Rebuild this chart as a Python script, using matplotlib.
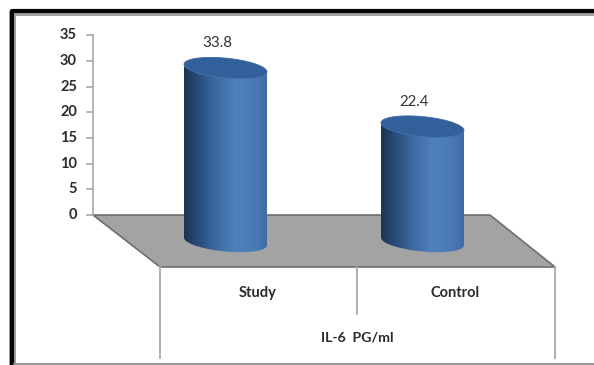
import numpy as np
import matplotlib
matplotlib.use("Agg")
import matplotlib.pyplot as plt
from matplotlib.colors import LinearSegmentedColormap
from matplotlib.patches import Polygon, PathPatch
from matplotlib.path import Path

categories = ["Study", "Control"]
values = [33.8, 22.4]
value_ticks = [0, 5, 10, 15, 20, 25, 30, 35]
axis_title = "IL-6  PG/ml"

plt.rcParams["font.family"] = ["Lato", "DejaVu Sans"]

W, H = 594, 365
fig = plt.figure(figsize=(W / 100, H / 100), dpi=100, facecolor="white")
ax = fig.add_axes([0, 0, 1, 1])

# x in pixels across the figure; y in chart units, zero on the axis line
units_per_px = 1 / 5.13
zero_px = 215
ax.set_xlim(0, W)
ax.set_ylim((zero_px - H) * units_per_px, zero_px * units_per_px)
ax.axis("off")


def y_at(px):
    return (zero_px - px) * units_per_px


# outer frame: heavy black top and left edges with a grey halo, thin grey base
frame_x = [12, 12, W + 5]
frame_y = [y_at(H + 5), y_at(12.5), y_at(12.5)]
ax.plot(frame_x, frame_y, color="#a0a0a0", lw=5.0, solid_joinstyle="round", zorder=1)
ax.plot(frame_x, [y_at(H + 5), y_at(11.5), y_at(11.5)], color="#050505", lw=3.0,
        solid_joinstyle="round", zorder=1)
ax.plot([14, W], [y_at(363.5), y_at(363.5)], color="#8c8c8c", lw=1.3, zorder=1)

# floor of the 3D plot
floor = [(93, 0), (490, 0), (555, y_at(267)), (160, y_at(267))]
ax.add_patch(Polygon(floor, closed=True, fc="#a3a3a3", ec="#6e6e6e", lw=1.2, zorder=2))

# value axis and its ticks
ax.plot([93, 93], [0, 35], color="#a8a8a8", lw=1.2, zorder=2)
for v in value_ticks:
    ax.plot([87, 93], [v, v], color="#a8a8a8", lw=1.2, zorder=2)
    ax.text(77, v, str(v), ha="right", va="center", fontsize=10.5,
            fontweight="bold", color="#2a2a2a", zorder=5)

# category dividers below the floor
for x, bottom in [(160, 358), (357, 314), (555, 358)]:
    ax.plot([x, x], [y_at(267), y_at(bottom)], color="#a8a8a8", lw=1.3, zorder=2)

for name, x in zip(categories, [258, 455]):
    ax.text(x, y_at(293), name, ha="center", va="center", fontsize=10.5,
            fontweight="bold", color="#2a2a2a", zorder=5)
ax.text(357, y_at(338), axis_title, ha="center", va="center", fontsize=10.2,
        fontweight="bold", color="#2a2a2a", zorder=5)

# cylinders
side_cmap = LinearSegmentedColormap.from_list(
    "side", [(0, "#1f3450"), (0.10, "#22426b"), (0.35, "#3a659c"),
             (0.62, "#4f81bd"), (0.85, "#4a7ab6"), (1, "#3f6ca6")])
centres = [225.5, 422.5]
half_width = 41.5
base_offset = y_at(241.5)
rim_h = 10 * units_per_px
rim_tilt = 3.8 * units_per_px


def rim(cx, level, start=0.0, stop=2 * np.pi):
    # a=0 is the left end of the ellipse, which sits slightly higher than the right
    a = np.linspace(start, stop, 91)
    return (cx - half_width * np.cos(a),
            level + rim_tilt * np.cos(a) + rim_h * np.sin(a))


for cx, v in zip(centres, values):
    top = base_offset + v
    # front half of the base rim, then back along the front of the top rim
    bx, by = rim(cx, base_offset, np.pi, 2 * np.pi)
    tx, ty = rim(cx, top, np.pi, 2 * np.pi)
    outline = np.column_stack([np.r_[bx, tx[::-1]], np.r_[by, ty[::-1]]])
    clip = PathPatch(Path(outline), fc="none", ec="none", zorder=3)
    ax.add_patch(clip)
    grad = np.linspace(0, 1, 256).reshape(1, -1)
    im = ax.imshow(grad, cmap=side_cmap, aspect="auto", zorder=3,
                   extent=(cx - half_width, cx + half_width, base_offset - 4, top + 4))
    im.set_clip_path(clip)
    rx, ry = rim(cx, top)
    ax.add_patch(Polygon(np.column_stack([rx, ry]), closed=True,
                         fc="#31609a", ec="#3d6ba6", lw=0.6, zorder=4))
    ax.text(cx - 8.5, top + 25 * units_per_px, f"{v}", ha="center", va="center",
            fontsize=10.8, color="#333333", zorder=5)

ax.set_xlim(0, W)
ax.set_ylim((zero_px - H) * units_per_px, zero_px * units_per_px)
fig.savefig("out.png", dpi=100, facecolor="white")
